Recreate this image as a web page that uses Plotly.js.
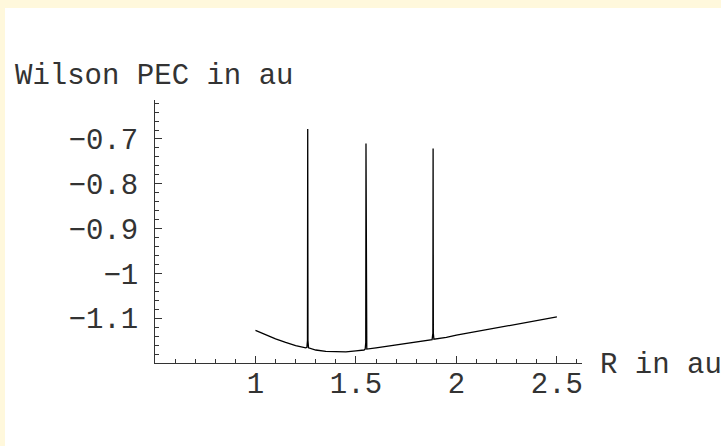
<!DOCTYPE html>
<html>
<head>
<meta charset="utf-8">
<script src="https://cdn.plot.ly/plotly-3.0.1.min.js"></script>
<style>
  html, body { margin: 0; padding: 0; background: #FFF8DC; width: 721px; height: 446px; overflow: hidden; }
  #chart { position: absolute; left: 5px; top: 8px; width: 716px; height: 438px; background: #ffffff; }
</style>
</head>
<body>
<div id="chart"></div>
<script>
// Wilson PEC (au) vs R (au)
const R = [1.00, 1.05, 1.10, 1.15, 1.20, 1.25, 1.256, 1.2588, 1.2600, 1.2612, 1.264,
           1.30, 1.35, 1.40, 1.45, 1.50, 1.54, 1.546, 1.5488, 1.5500, 1.5512, 1.554,
           1.60, 1.70, 1.80, 1.87, 1.879, 1.8828, 1.8840, 1.8852, 1.888,
           1.95, 2.00, 2.10, 2.20, 2.30, 2.40, 2.50];
const E = [-1.127, -1.137, -1.146, -1.154, -1.161, -1.166, -1.165, -1.150, -0.678, -1.150, -1.166,
           -1.171, -1.174, -1.175, -1.175, -1.173, -1.171, -1.169, -1.155, -0.710, -1.155, -1.169,
           -1.166, -1.160, -1.154, -1.150, -1.148, -1.134, -0.721, -1.134, -1.147,
           -1.143, -1.138, -1.130, -1.122, -1.114, -1.105, -1.097];

const xTickVals = [1, 1.5, 2, 2.5];
const xTickText = ["1", "1.5", "2", "2.5"];
const yTickVals = [-1.1, -1.0, -0.9, -0.8, -0.7];
const yTickText = ["\u22121.1", "\u22121", "\u22120.9", "\u22120.8", "\u22120.7"];

const yTitle = "Wilson PEC in au";
const xTitle = "R in au";

const FONT = "Liberation Mono, Courier New, monospace";
const FS = 29;
const TXT = "#333333";

const trace = {
  x: R, y: E, type: "scatter", mode: "lines",
  line: { color: "#000000", width: 1.3, shape: "linear" },
  hoverinfo: "skip"
};

const layout = {
  width: 716, height: 438,
  margin: { l: 150, r: 139, t: 92, b: 83 },
  paper_bgcolor: "#ffffff", plot_bgcolor: "#ffffff",
  showlegend: false,
  font: { family: FONT, size: FS, color: TXT },
  xaxis: {
    range: [0.5, 2.625], showgrid: false, zeroline: false,
    showline: true, linecolor: "#333333", linewidth: 1, mirror: false,
    tickmode: "array", tickvals: xTickVals, ticktext: xTickText,
    ticks: "inside", ticklen: 7, tickwidth: 1, tickcolor: "#333333",
    ticklabelstandoff: -6,
    tickfont: { family: FONT, size: FS, color: TXT },
    minor: { tickmode: "linear", tick0: 0, dtick: 0.1, ticks: "inside", ticklen: 4, tickwidth: 1, tickcolor: "#333333", showgrid: false }
  },
  yaxis: {
    range: [-1.2, -0.613], showgrid: false, zeroline: false,
    showline: true, linecolor: "#333333", linewidth: 1, mirror: false,
    tickmode: "array", tickvals: yTickVals, ticktext: yTickText,
    ticks: "inside", ticklen: 7, tickwidth: 1, tickcolor: "#333333",
    ticklabelstandoff: 10,
    tickfont: { family: FONT, size: FS, color: TXT },
    minor: { tickmode: "linear", tick0: 0, dtick: 0.02, ticks: "inside", ticklen: 4, tickwidth: 1, tickcolor: "#333333", showgrid: false }
  },
  annotations: [
    { text: yTitle, xref: "paper", yref: "paper", x: -0.3326, y: 1.088,
      xanchor: "left", yanchor: "middle", showarrow: false,
      font: { family: FONT, size: FS, color: TXT } },
    { text: xTitle, xref: "paper", yref: "paper", x: 1.0375, y: -0.01,
      xanchor: "left", yanchor: "middle", showarrow: false,
      font: { family: FONT, size: FS, color: TXT } }
  ]
};

Plotly.newPlot("chart", [trace], layout, { staticPlot: true, displayModeBar: false });
</script>
</body>
</html>
